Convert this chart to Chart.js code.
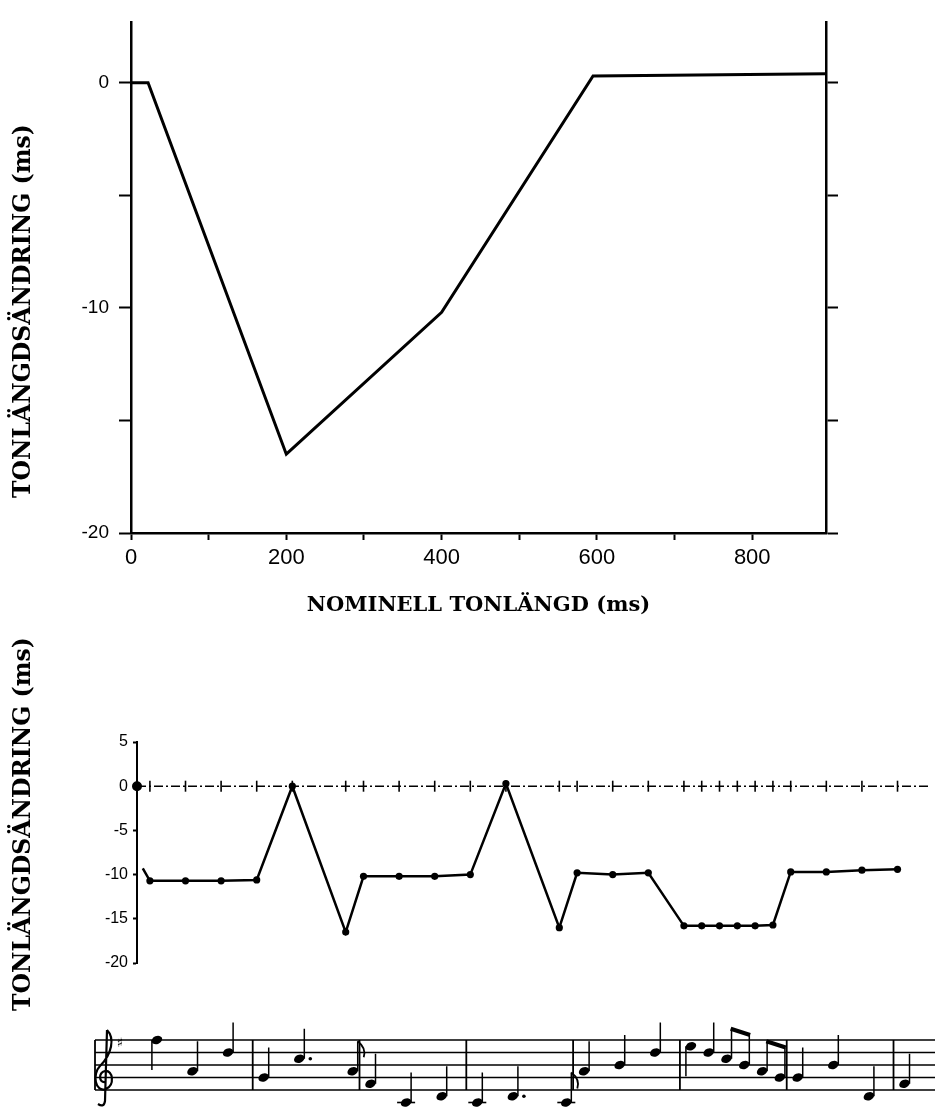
<!DOCTYPE html>
<html>
<head>
<meta charset="utf-8">
<script src="https://cdn.jsdelivr.net/npm/chart.js@4.4.1/dist/chart.umd.min.js"></script>
<style>
  body { margin: 0; background: #fff; }
  #page { position: relative; width: 935px; height: 1113px; overflow: hidden; background: #fff; }
  #page canvas { position: absolute; left: 0; }
  .ytitle {
    position: absolute;
    font: bold 23.5px 'DejaVu Serif', serif;
    color: #000;
    white-space: nowrap;
    transform: translate(-50%, -50%) rotate(-90deg);
  }
</style>
</head>
<body>
<div id="page">
  <canvas id="curveChart" width="935" height="625" style="top:0"></canvas>
  <canvas id="melodyChart" width="935" height="488" style="top:625px"></canvas>
  <div class="ytitle" style="left:22px;top:311px">TONLÄNGDSÄNDRING (ms)</div>
  <div class="ytitle" style="left:22px;top:824px">TONLÄNGDSÄNDRING (ms)</div>
</div>
<script>
// --- rule curve: change in tone length against nominal tone length (ms)
const nominalLength = [0, 22, 200, 400, 595, 895];
const lengthChange = [0, 0, -16.5, -10.2, 0.3, 0.4];
const curveTicksX = [0, 100, 200, 300, 400, 500, 600, 700, 800];
const curveLabelsX = [0, 200, 400, 600, 800];
const curveTicksY = [-20, -15, -10, -5, 0];
const curveLabelsY = [-20, -10, 0];

// --- melody: onsets in quarter beats, change of each tone (ms), pitch as staff step (0 = bottom line E4)
const quarterMs = 400;
const onsetBeats = [0, 1, 2, 3, 4, 5.5, 6, 7, 8, 9, 10, 11.5, 12, 13, 14, 15, 15.5, 16, 16.5, 17, 17.5, 18, 19, 20, 21];
const toneChange = [-10.7, -10.7, -10.7, -10.6, 0, -16.5, -10.2, -10.2, -10.2, -10.0, 0.3, -16.0, -9.8, -10.0, -9.8,
                    -15.8, -15.8, -15.8, -15.8, -15.8, -15.7, -9.7, -9.7, -9.5, -9.4];
const noteSteps = [8, 3, 6, 2, 5, 3, 1, -2, -1, -2, -1, -2, 3, 4, 6, 7, 6, 5, 4, 3, 2, 2, 4, -1, 1];
const barBeats = [3, 6, 9, 12, 15, 18, 21];
const melodyTicksY = [-20, -15, -10, -5, 0, 5];
const leadIn = { x: -80, y: -9.3 };
const melodyMinX = -145;
const melodyMaxX = 8756;

Chart.defaults.font.family = "'Liberation Sans', Arial, sans-serif";
Chart.defaults.color = '#000';

const black = '#000';
const tickGrid = len => ({
  display: true, drawOnChartArea: false, drawTicks: true,
  tickLength: len, tickColor: black, tickWidth: 2
});

new Chart(document.getElementById('curveChart'), {
  type: 'line',
  data: {
    datasets: [{
      data: nominalLength.map((x, i) => ({ x: x, y: lengthChange[i] })),
      borderColor: black,
      borderWidth: 3,
      pointRadius: 0,
      tension: 0
    }]
  },
  options: {
    responsive: false,
    animation: false,
    devicePixelRatio: 1,
    layout: { padding: { top: 22, left: 0, right: 0, bottom: 0 } },
    plugins: { legend: { display: false }, tooltip: { enabled: false } },
    scales: {
      x: {
        type: 'linear', min: 0, max: 895,
        afterBuildTicks: s => { s.ticks = curveTicksX.map(v => ({ value: v })); },
        afterFit: s => { s.height = 92; },
        border: { display: true, color: black, width: 2.5 },
        grid: tickGrid(7),
        ticks: {
          autoSkip: false, maxRotation: 0, padding: 5,
          font: { size: 22 },
          callback: v => curveLabelsX.includes(v) ? String(v) : ''
        },
        title: {
          display: true,
          text: 'NOMINELL TONLÄNGD (ms)',
          color: black,
          font: { family: "'DejaVu Serif', serif", size: 21, weight: 'bold' },
          padding: { top: 0, bottom: 7 }
        }
      },
      y: {
        type: 'linear', position: 'left', min: -20, max: 2.7,
        afterBuildTicks: s => { s.ticks = curveTicksY.map(v => ({ value: v })); },
        afterFit: s => { s.width = 131; },
        border: { display: true, color: black, width: 2.5 },
        grid: tickGrid(12),
        ticks: {
          autoSkip: false, padding: 10,
          font: { size: 19 },
          callback: v => curveLabelsY.includes(v) ? String(v) : ''
        }
      },
      yRight: {
        type: 'linear', position: 'right', min: -20, max: 2.7,
        afterBuildTicks: s => { s.ticks = curveTicksY.map(v => ({ value: v })); },
        afterFit: s => { s.width = 109; },
        border: { display: true, color: black, width: 2.5 },
        grid: tickGrid(12),
        ticks: { display: false }
      }
    }
  }
});

// staff with the notes of the melody, placed under the plot by the x scale
const staffPlugin = {
  id: 'staff',
  afterDraw(chart) {
    const ctx = chart.ctx;
    const xs = chart.scales.x;
    const top = 415, gap = 12.5, bottom = top + 4 * gap;
    const stepY = s => bottom - s * gap / 2;
    const left = 95, right = chart.width;
    const beatX = b => xs.getPixelForValue(b * quarterMs);
    const dur = i => i < onsetBeats.length - 1 ? onsetBeats[i + 1] - onsetBeats[i] : 1;

    ctx.save();
    ctx.strokeStyle = black;
    ctx.fillStyle = black;
    ctx.lineCap = 'butt';

    // five lines
    ctx.lineWidth = 1.6;
    for (let k = 0; k < 5; k++) {
      ctx.beginPath();
      ctx.moveTo(left, top + k * gap);
      ctx.lineTo(right, top + k * gap);
      ctx.stroke();
    }
    // opening line and bar lines
    ctx.lineWidth = 1.8;
    [left].concat(barBeats.map(b => beatX(b) - 4)).forEach(x => {
      ctx.beginPath();
      ctx.moveTo(x, top);
      ctx.lineTo(x, bottom);
      ctx.stroke();
    });

    // treble clef
    const cx = 104;
    ctx.lineWidth = 2.2;
    ctx.beginPath();
    ctx.moveTo(cx + 3, top - 10);
    ctx.bezierCurveTo(cx + 11, top - 2, cx + 8, top + 14, cx - 4, top + 26);
    ctx.bezierCurveTo(cx - 12, top + 34, cx - 9, bottom + 3, cx + 2, bottom - 1);
    ctx.bezierCurveTo(cx + 11, bottom - 5, cx + 9, bottom - 20, cx + 1, bottom - 19);
    ctx.bezierCurveTo(cx - 6, bottom - 17, cx - 5, bottom - 7, cx + 1, bottom - 8);
    ctx.moveTo(cx + 3, top - 10);
    ctx.lineTo(cx + 1, bottom + 11);
    ctx.quadraticCurveTo(cx, bottom + 18, cx - 6, bottom + 14);
    ctx.stroke();
    ctx.font = "13px 'DejaVu Sans'";
    ctx.textAlign = 'center';
    ctx.textBaseline = 'middle';
    ctx.fillText('♯', 120, top + 4);

    // notes
    const stemTops = [];
    onsetBeats.forEach((b, i) => {
      const x = beatX(b) + 7;
      const y = stepY(noteSteps[i]);
      const s = noteSteps[i];
      // ledger lines below the staff
      ctx.lineWidth = 1.6;
      for (let l = -2; l >= s; l -= 2) {
        ctx.beginPath();
        ctx.moveTo(x - 9, stepY(l));
        ctx.lineTo(x + 9, stepY(l));
        ctx.stroke();
      }
      ctx.beginPath();
      ctx.ellipse(x, y, 5.5, 4, -0.4, 0, Math.PI * 2);
      ctx.fill();
      ctx.lineWidth = 1.5;
      ctx.beginPath();
      if (s >= 7) {
        ctx.moveTo(x - 5, y);
        ctx.lineTo(x - 5, y + 30);
        stemTops.push(null);
      } else {
        ctx.moveTo(x + 5, y);
        ctx.lineTo(x + 5, y - 30);
        stemTops.push({ x: x + 5, y: y - 30 });
      }
      ctx.stroke();
      if (dur(i) === 1.5) {
        ctx.beginPath();
        ctx.arc(x + 11, y - (s % 2 === 0 ? 3 : 0), 1.8, 0, Math.PI * 2);
        ctx.fill();
      }
    });

    // flags for single eighths, beams for eighth pairs
    onsetBeats.forEach((b, i) => {
      if (dur(i) !== 0.5 || !stemTops[i]) return;
      const t = stemTops[i];
      const paired = Number.isInteger(b) && i + 1 < onsetBeats.length && dur(i + 1) === 0.5;
      const follows = !Number.isInteger(b) && i > 0 && dur(i - 1) === 0.5 && Number.isInteger(onsetBeats[i - 1]);
      if (paired && stemTops[i + 1]) {
        const u = stemTops[i + 1];
        ctx.lineWidth = 4;
        ctx.beginPath();
        ctx.moveTo(t.x - 0.8, t.y);
        ctx.lineTo(u.x + 0.8, u.y);
        ctx.stroke();
      } else if (!follows) {
        ctx.lineWidth = 1.8;
        ctx.beginPath();
        ctx.moveTo(t.x, t.y);
        ctx.quadraticCurveTo(t.x + 9, t.y + 7, t.x + 6, t.y + 16);
        ctx.stroke();
      }
    });
    ctx.restore();
  }
};

new Chart(document.getElementById('melodyChart'), {
  type: 'line',
  data: {
    datasets: [
      {
        // measured tone length changes
        data: [leadIn].concat(onsetBeats.map((b, i) => ({ x: b * quarterMs, y: toneChange[i] }))),
        borderColor: black,
        borderWidth: 2.5,
        backgroundColor: black,
        pointBackgroundColor: black,
        pointBorderColor: black,
        pointBorderWidth: 0,
        pointRadius: c => c.dataIndex === 0 ? 0 : 3.6,
        tension: 0,
        clip: false
      },
      {
        // zero line, one tick per tone onset
        data: [{ x: melodyMinX, y: 0 }]
          .concat(onsetBeats.map(b => ({ x: b * quarterMs, y: 0 })))
          .concat([{ x: melodyMaxX, y: 0 }]),
        borderColor: black,
        borderWidth: 1.6,
        borderDash: [9, 3, 2, 3],
        pointStyle: c => c.dataIndex === 0 ? 'circle' : 'line',
        pointRotation: c => c.dataIndex === 0 ? 0 : 90,
        pointRadius: c => c.dataIndex === onsetBeats.length + 1 ? 0 : (c.dataIndex === 0 ? 4.2 : 5.5),
        pointBackgroundColor: black,
        pointBorderColor: black,
        pointBorderWidth: 1.6,
        tension: 0,
        clip: false
      }
    ]
  },
  options: {
    responsive: false,
    animation: false,
    devicePixelRatio: 1,
    layout: { padding: { top: 117, bottom: 150, left: 0, right: 0 } },
    plugins: { legend: { display: false }, tooltip: { enabled: false } },
    scales: {
      x: { type: 'linear', display: false, min: melodyMinX, max: melodyMaxX },
      y: {
        type: 'linear', position: 'left', min: -20, max: 5,
        afterBuildTicks: s => { s.ticks = melodyTicksY.map(v => ({ value: v })); },
        afterFit: s => { s.width = 137; },
        border: { display: true, color: black, width: 2 },
        grid: tickGrid(4),
        ticks: { autoSkip: false, padding: 5, font: { size: 16 } }
      }
    }
  },
  plugins: [staffPlugin]
});
</script>
</body>
</html>
